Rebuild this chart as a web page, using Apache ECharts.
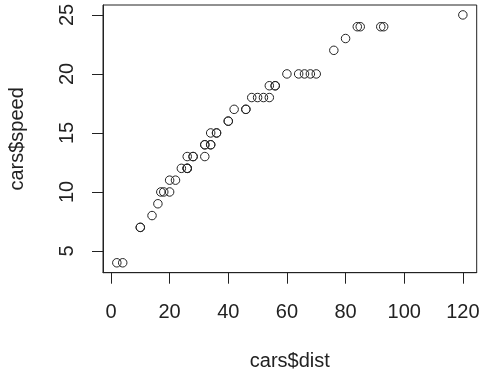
<!DOCTYPE html>
<html><head><meta charset="utf-8">
<script src="https://cdn.jsdelivr.net/npm/echarts@6/dist/echarts.min.js"></script>
<style>html,body{margin:0;padding:0;background:#fff}#c{width:483px;height:374px}</style>
</head><body><div id="c"></div>
<script>
// sorted cars$dist vs sorted cars$speed
const distValues = [2,4,10,10,14,16,17,18,20,20,22,24,26,26,26,26,28,28,32,32,32,34,34,34,36,36,40,40,42,46,46,48,50,52,54,54,56,56,60,64,66,68,70,76,80,84,85,92,93,120];
const speedValues = [4,4,7,7,8,9,10,10,10,11,11,12,12,12,12,13,13,13,13,14,14,14,14,15,15,15,16,16,17,17,17,18,18,18,18,19,19,19,20,20,20,20,20,22,23,24,24,24,24,25];
const xTicks = [0,20,40,60,80,100,120];
const yTicks = [5,10,15,20,25];
const xTitle = 'cars$dist';
const yTitle = 'cars$speed';

const pts = distValues.map((d,i)=>[d, speedValues[i]]);
const xMin = Math.min(...distValues), xMax = Math.max(...distValues);
const yMin = Math.min(...speedValues), yMax = Math.max(...speedValues);
const xPad = (xMax-xMin)*0.04, yPad = (yMax-yMin)*0.04;
const font = 'Liberation Sans, Arial, sans-serif';
const txt = '#222';

const chart = echarts.init(document.getElementById('c'), null, {renderer:'canvas'});
chart.setOption({
  animation:false,
  grid:{left:103, right:6.3, top:5, bottom:101.3, show:true, borderColor:'#222', borderWidth:1, backgroundColor:'transparent', containLabel:false, outerBoundsMode:'none'},
  xAxis:{type:'value', min:xMin-xPad, max:xMax+xPad,
    splitLine:{show:false}, axisLine:{show:true, onZero:false, lineStyle:{color:'#222'}},
    axisTick:{show:true, inside:false, length:11, customValues:xTicks, lineStyle:{color:'#222'}},
    axisLabel:{customValues:xTicks, fontSize:20, fontFamily:font, color:txt, margin:30},
    name:xTitle, nameLocation:'middle', nameGap:79, nameTextStyle:{fontSize:20, fontFamily:font, color:txt}
  },
  yAxis:{type:'value', min:yMin-yPad, max:yMax+yPad,
    splitLine:{show:false}, axisLine:{show:true, onZero:false, lineStyle:{color:'#222'}},
    axisTick:{show:true, inside:false, length:11, customValues:yTicks, lineStyle:{color:'#222'}},
    axisLabel:{customValues:yTicks, fontSize:20, fontFamily:font, color:txt, rotate:90, margin:26},
    name:yTitle, nameLocation:'middle', nameGap:76, nameTextStyle:{fontSize:20, fontFamily:font, color:txt}
  },
  series:[{type:'scatter', data:pts, symbol:'circle', symbolSize:8.5,
    itemStyle:{color:'rgba(0,0,0,0)', borderColor:'#222', borderWidth:1, opacity:1}}]
});
</script></body></html>
